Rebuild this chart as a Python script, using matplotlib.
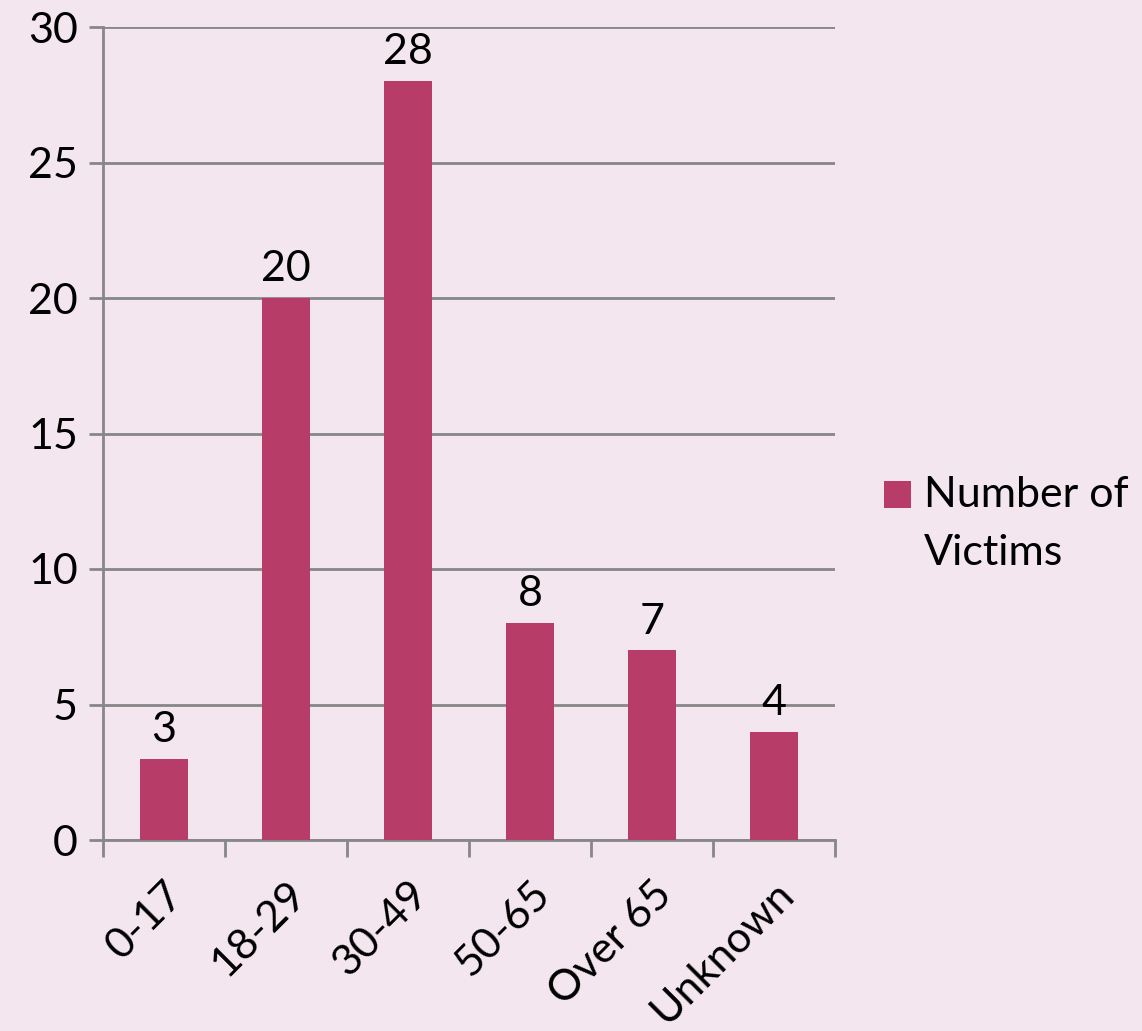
import matplotlib
matplotlib.use("Agg")
import matplotlib.pyplot as plt
from matplotlib.patches import Rectangle

categories = ["0-17", "18-29", "30-49", "50-65", "Over 65", "Unknown"]
values = [3, 20, 28, 8, 7, 4]
series_name = "Number of\nVictims"
yticks = [0, 5, 10, 15, 20, 25, 30]

bg = "#F3E6EE"
bar_color = "#B83C68"
grid_color = "#878787"
FS = 31

plt.rcParams['font.family'] = ['Lato', 'DejaVu Sans']

W, H = 1142, 1031
fig = plt.figure(figsize=(W/100, H/100), dpi=100, facecolor=bg)
ax = fig.add_axes([103/W, 1 - 840/H, (835-103)/W, (840-27)/H])
ax.set_facecolor(bg)

x = list(range(len(categories)))
bars = ax.bar(x, values, width=0.4, color=bar_color, zorder=3, label=series_name)
for xi, v in zip(x, values):
    ax.annotate(str(v), (xi, v), xytext=(0, 7), textcoords="offset points",
                ha="center", va="bottom", fontsize=FS, color="black")

ax.set_xlim(-0.5, len(categories) - 0.5)
ax.set_ylim(0, 30)
ax.set_yticks(yticks)
ax.set_yticklabels([str(t) for t in yticks], fontsize=FS)
ax.set_xticks([i - 0.5 for i in range(len(categories) + 1)], minor=False)
ax.set_xticklabels([""] * (len(categories) + 1))
ax.set_xticks(x, minor=True)
ax.set_xticklabels(categories, minor=True, rotation=45, ha="right",
                   rotation_mode="anchor", fontsize=FS)
ax.tick_params(axis="x", which="minor", length=0, pad=25)
ax.tick_params(axis="x", which="major", length=12, width=2, color=grid_color, direction="out")
ax.tick_params(axis="y", length=10, width=2, color=grid_color, direction="out", pad=8)

ax.yaxis.grid(True, color=grid_color, linewidth=2, zorder=0)
for s in ["top", "right"]:
    ax.spines[s].set_visible(False)
for s in ["left", "bottom"]:
    ax.spines[s].set_color(grid_color)
    ax.spines[s].set_linewidth(2)

# legend (manual, to match the wrapped label with the key beside the first line)
fig.patches.append(Rectangle((884/W, 1 - 508/H), 27/W, 27/H, transform=fig.transFigure,
                             facecolor=bar_color, edgecolor="none"))
fig.text(924/W, 1 - 565/H, series_name, ha="left", va="baseline",
         fontsize=FS, color="black", linespacing=1.66)

fig.savefig("out.png", dpi=100, facecolor=bg)
